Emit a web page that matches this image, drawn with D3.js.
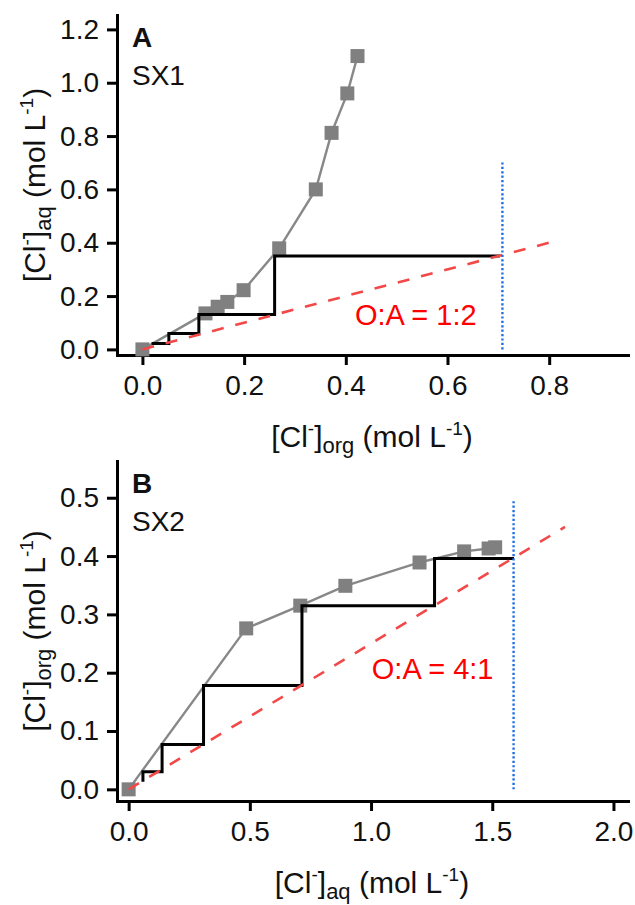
<!DOCTYPE html>
<html>
<head>
<meta charset="utf-8">
<script src="https://cdn.jsdelivr.net/npm/d3@7"></script>
<style>
  body { margin: 0; background: #fff; }
  svg text { font-family: "Liberation Sans", Arial, sans-serif; fill: #111; }
</style>
</head>
<body>
<svg id="chart" width="635" height="905"></svg>
<script>
// --- Data ---
// Panel A (SX1): equilibrium isotherm, [Cl-]org vs [Cl-]aq
const sx1Org = [0, 0.124, 0.148, 0.167, 0.199, 0.269, 0.341, 0.372, 0.403, 0.423];
const sx1Aq  = [0, 0.135, 0.160, 0.178, 0.222, 0.379, 0.600, 0.812, 0.960, 1.100];
// McCabe-Thiele stages (step after)
const stepAx = [0.018, 0.052, 0.111, 0.260, 0.703];
const stepAy = [0.0225, 0.060, 0.131, 0.350, 0.350];
// operating line O:A = 1:2
const opAx = [0, 0.8];
const opAy = [0, 0.4];
const feedAx = 0.708;
const feedAy = [0, 0.707];
const ticksAx = [0, 0.2, 0.4, 0.6, 0.8];
const ticksAy = [0, 0.2, 0.4, 0.6, 0.8, 1.0, 1.2];

// Panel B (SX2): [Cl-]aq vs [Cl-]org
const sx2Aq  = [0, 0.485, 0.708, 0.894, 1.200, 1.384, 1.485, 1.512];
const sx2Org = [0, 0.276, 0.315, 0.349, 0.389, 0.408, 0.413, 0.415];
// stages (step before)
const stepBx = [0.059, 0.138, 0.309, 0.715, 1.262, 1.590];
const stepBy = [0.013, 0.030, 0.077, 0.178, 0.315, 0.396];
// operating line O:A = 4:1
const opBx = [0, 1.8];
const opBy = [0, 0.45];
const feedBx = 1.588;
const feedBy = [0, 0.496];
const ticksBx = [0, 0.5, 1.0, 1.5, 2.0];
const ticksBy = [0, 0.1, 0.2, 0.3, 0.4, 0.5];

const svg = d3.select("#chart");
const FONT = 28;        // tick labels, panel names
const TITLE_FONT = 30;  // axis titles

function drawPanel(cfg) {
    const x = d3.scaleLinear().domain(cfg.xDomain).range([117, 628]);
    const y = d3.scaleLinear().domain(cfg.yDomain).range(cfg.yRange);
    const g = svg.append("g");
    const bottom = cfg.yRange[0], top = cfg.yRange[1];

    // axes
    const xAxis = g.append("g")
        .attr("transform", `translate(0,${bottom})`)
        .call(d3.axisBottom(x).tickValues(cfg.xTicks).tickFormat(d3.format(".1f"))
            .tickSize(10).tickSizeOuter(0).tickPadding(10));
    const yAxis = g.append("g")
        .attr("transform", "translate(117,0)")
        .call(d3.axisLeft(y).tickValues(cfg.yTicks).tickFormat(d3.format(".1f"))
            .tickSize(10).tickSizeOuter(0).tickPadding(8));
    [xAxis, yAxis].forEach(a => {
        a.select(".domain").attr("stroke", "#000").attr("stroke-width", 3).attr("stroke-linecap", "square");
        a.selectAll(".tick line").attr("stroke", "#000").attr("stroke-width", 3);
        a.selectAll(".tick text").attr("font-size", FONT).attr("fill", "#111")
            .style("font-family", '"Liberation Sans", Arial, sans-serif');
    });

    // isotherm line
    const pts = cfg.isoX.map((v, i) => [v, cfg.isoY[i]]);
    g.append("path")
        .datum(pts)
        .attr("fill", "none")
        .attr("stroke", "#888")
        .attr("stroke-width", 2.4)
        .attr("d", d3.line().x(d => x(d[0])).y(d => y(d[1])));

    g.selectAll(".pt")
        .data(pts)
        .enter()
        .append("rect")
        .attr("x", d => x(d[0]) - 7)
        .attr("y", d => y(d[1]) - 7)
        .attr("width", 14)
        .attr("height", 14)
        .attr("fill", "#808080");

    // stage steps
    const steps = cfg.stepX.map((v, i) => [v, cfg.stepY[i]]);
    g.append("path")
        .datum(steps)
        .attr("fill", "none")
        .attr("stroke", "#000")
        .attr("stroke-width", 3)
        .attr("d", d3.line().curve(cfg.stepCurve).x(d => x(d[0])).y(d => y(d[1])));

    // operating line
    g.append("path")
        .datum(cfg.opX.map((v, i) => [v, cfg.opY[i]]))
        .attr("fill", "none")
        .attr("stroke", "#f24848")
        .attr("stroke-width", 2.6)
        .attr("stroke-dasharray", "12,12")
        .attr("d", d3.line().x(d => x(d[0])).y(d => y(d[1])));

    // feed concentration line
    g.append("line")
        .attr("x1", x(cfg.feedX)).attr("x2", x(cfg.feedX))
        .attr("y1", y(cfg.feedY[0])).attr("y2", y(cfg.feedY[1]))
        .attr("stroke", "#1f6fe5")
        .attr("stroke-width", 2.4)
        .attr("stroke-dasharray", "2.2,2.2");

    // O:A annotation
    g.append("text")
        .attr("x", x(cfg.ratioPos[0]))
        .attr("y", y(cfg.ratioPos[1]))
        .attr("font-size", 29)
        .style("fill", "#ff0000")
        .text(cfg.ratioText);

    // panel letter + name
    g.append("text")
        .attr("x", 132).attr("y", top + 32)
        .attr("font-size", FONT).attr("font-weight", "bold")
        .text(cfg.letter);
    g.append("text")
        .attr("x", 132).attr("y", top + 70)
        .attr("font-size", FONT)
        .text(cfg.name);

    // axis titles
    function title(sel, sub) {
        sel.append("tspan").text("[Cl");
        sel.append("tspan").attr("font-size", 19).attr("dy", -12).text("-");
        sel.append("tspan").attr("dy", 12).text("]");
        sel.append("tspan").attr("font-size", 22).attr("dy", 6).text(sub);
        sel.append("tspan").attr("dy", -6).text(" (mol L");
        sel.append("tspan").attr("font-size", 19).attr("dy", -12).text("-1");
        sel.append("tspan").attr("dy", 12).text(")");
    }
    const xt = g.append("text")
        .attr("x", 372).attr("y", bottom + 92)
        .attr("text-anchor", "middle")
        .attr("font-size", TITLE_FONT);
    title(xt, cfg.xSub);
    const yt = g.append("text")
        .attr("transform", `translate(45,${(top + bottom) / 2}) rotate(-90)`)
        .attr("text-anchor", "middle")
        .attr("font-size", TITLE_FONT);
    title(yt, cfg.ySub);
}

drawPanel({
    xDomain: [-0.05, 0.955], yDomain: [-0.021, 1.254], yRange: [355, 15],
    xTicks: ticksAx, yTicks: ticksAy,
    isoX: sx1Org, isoY: sx1Aq,
    stepX: stepAx, stepY: stepAy, stepCurve: d3.curveStepAfter,
    opX: opAx, opY: opAy, feedX: feedAx, feedY: feedAy,
    ratioText: "O:A = 1:2", ratioPos: [0.418, 0.0915],
    letter: "A", name: "SX1", xSub: "org", ySub: "aq"
});

drawPanel({
    xDomain: [-0.048, 2.06], yDomain: [-0.02, 0.563], yRange: [801, 461],
    xTicks: ticksBx, yTicks: ticksBy,
    isoX: sx2Aq, isoY: sx2Org,
    stepX: stepBx, stepY: stepBy, stepCurve: d3.curveStepBefore,
    opX: opBx, opY: opBy, feedX: feedBx, feedY: feedBy,
    ratioText: "O:A = 4:1", ratioPos: [1.003, 0.189],
    letter: "B", name: "SX2", xSub: "aq", ySub: "org"
});
</script>
</body>
</html>
